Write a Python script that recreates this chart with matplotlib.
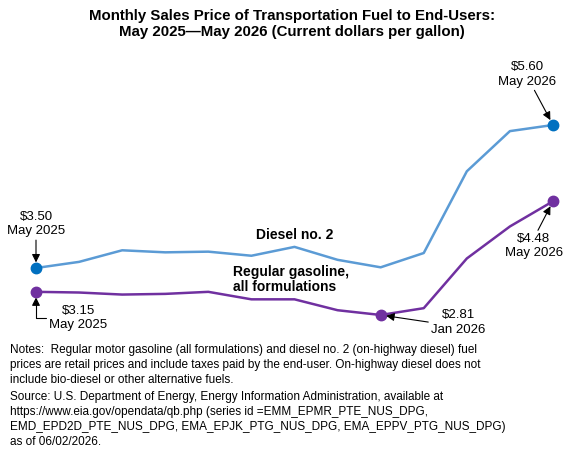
import matplotlib
matplotlib.use("Agg")
import matplotlib.pyplot as plt

plt.rcParams['font.family'] = ['Liberation Sans', 'DejaVu Sans']

# monthly prices, May 2025 .. May 2026
months = ['May 2025', 'Jun 2025', 'Jul 2025', 'Aug 2025', 'Sep 2025', 'Oct 2025',
          'Nov 2025', 'Dec 2025', 'Jan 2026', 'Feb 2026', 'Mar 2026', 'Apr 2026', 'May 2026']
diesel = [3.50, 3.59, 3.76, 3.73, 3.74, 3.68, 3.81, 3.62, 3.51, 3.72, 4.92, 5.51, 5.60]
gasoline = [3.15, 3.14, 3.11, 3.12, 3.15, 3.04, 3.04, 2.88, 2.81, 2.91, 3.64, 4.11, 4.48]

diesel_line = '#5b9bd5'
diesel_dot = '#0070c0'
gas_color = '#7030a0'

W, H = 570, 459
fig = plt.figure(figsize=(W / 100, H / 100), dpi=100)

# place the axes so data sits where it does in the original
x0, x1 = 36, 553
ymin, ymax = 2.5, 6.0
py_lo, py_hi = 336.1, 97.75
ax = fig.add_axes([x0 / W, 1 - py_lo / H, (x1 - x0) / W, (py_lo - py_hi) / H])
ax.set_xlim(0, len(months) - 1)
ax.set_ylim(ymin, ymax)
ax.axis('off')

x = list(range(len(months)))
ax.plot(x, diesel, color=diesel_line, lw=1.8)
ax.plot(x, gasoline, color=gas_color, lw=1.8)

ax.plot([x[0], x[-1]], [diesel[0], diesel[-1]], 'o', color=diesel_dot, ms=7.5, clip_on=False)
jan = months.index('Jan 2026')
ax.plot([x[0], x[jan], x[-1]], [gasoline[0], gasoline[jan], gasoline[-1]], 'o',
        color=gas_color, ms=7.5, clip_on=False)

def arrow(relpos, **kw):
    d = dict(arrowstyle='-|>', color='black', lw=0.8, mutation_scale=12,
             shrinkA=0, shrinkB=4, relpos=relpos)
    d.update(kw)
    return d

fs = 9.5
ls = 1.25

ax.annotate(f'${diesel[0]:.2f}\n{months[0]}', xy=(x[0], diesel[0]), xytext=(x[0], 3.95),
            ha='center', va='bottom', fontsize=fs, linespacing=ls,
            arrowprops=arrow((0.5, 0)), annotation_clip=False)
ax.annotate(f'${diesel[-1]:.2f}\n{months[-1]}', xy=(x[-1], diesel[-1]), xytext=(11.4, 6.15),
            ha='center', va='bottom', fontsize=fs, linespacing=ls,
            arrowprops=arrow((0.6, 0)), annotation_clip=False)
ax.annotate(f'${gasoline[0]:.2f}\n{months[0]}', xy=(x[0], gasoline[0]), xytext=(0.98, 2.77),
            ha='center', va='center', fontsize=fs, linespacing=ls,
            arrowprops=arrow((0, 0.5), connectionstyle='angle,angleA=0,angleB=90,rad=0'),
            annotation_clip=False)
ax.annotate(f'${gasoline[jan]:.2f}\n{months[jan]}', xy=(x[jan], gasoline[jan]), xytext=(9.8, 2.70),
            ha='center', va='center', fontsize=fs, linespacing=ls,
            arrowprops=arrow((0, 0.5)), annotation_clip=False)
ax.annotate(f'${gasoline[-1]:.2f}\n{months[-1]}', xy=(x[-1], gasoline[-1]), xytext=(11.55, 3.82),
            ha='center', va='center', fontsize=fs, linespacing=ls,
            arrowprops=arrow((0.55, 1)), annotation_clip=False)

ax.text(6.0, 3.98, 'Diesel no. 2', ha='center', va='center', fontsize=10, fontweight='bold')
ax.text(4.57, 3.33, 'Regular gasoline,\nall formulations', ha='left', va='center',
        fontsize=10, fontweight='bold', linespacing=1.1)

fig.text(292 / W, 1 - 24 / H, 'Monthly Sales Price of Transportation Fuel to End-Users:\n'
         'May 2025\u2014May 2026 (Current dollars per gallon)',
         ha='center', va='center', fontsize=10.8, fontweight='bold', linespacing=1.1)

notes = ('Notes:  Regular motor gasoline (all formulations) and diesel no. 2 (on-highway diesel) fuel\n'
         'prices are retail prices and include taxes paid by the end-user. On-highway diesel does not\n'
         'include bio-diesel or other alternative fuels.')
source = ('Source: U.S. Department of Energy, Energy Information Administration, available at\n'
          'https://www.eia.gov/opendata/qb.php (series id =EMM_EPMR_PTE_NUS_DPG,\n'
          'EMD_EPD2D_PTE_NUS_DPG, EMA_EPJK_PTG_NUS_DPG, EMA_EPPV_PTG_NUS_DPG)\n'
          'as of 06/02/2026.')
fig.text(10 / W, 1 - 344 / H, notes, ha='left', va='top', fontsize=8.5, linespacing=1.33)
fig.text(10 / W, 1 - 391 / H, source, ha='left', va='top', fontsize=8.5, linespacing=1.33)

fig.savefig('out.png', dpi=100)
